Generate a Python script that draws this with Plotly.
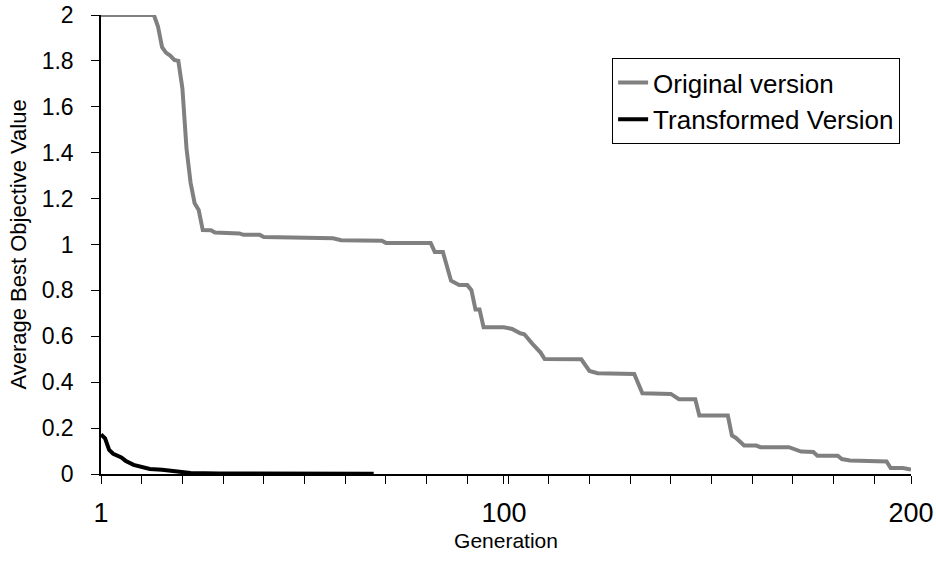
import plotly.graph_objects as go

# Original version: vertices (generation, average best objective value)
orig_gen = [1, 14, 15, 16, 17, 18, 19, 20, 21, 22, 23, 24, 25, 26, 28, 29, 35, 36, 40, 41,
            58, 60, 70, 71, 82, 83, 85, 87, 89, 91, 92, 93, 94, 95, 100, 102, 104, 105, 107,
            109, 110, 119, 121, 123, 132, 134, 141, 143, 147, 148, 155, 156, 157, 159, 162,
            163, 170, 173, 176, 177, 182, 183, 185, 194, 195, 198, 200]
orig_val = [2.00, 2.00, 1.95, 1.86, 1.835, 1.823, 1.804, 1.80, 1.68, 1.42, 1.27, 1.18, 1.15,
            1.063, 1.062, 1.052, 1.048, 1.042, 1.042, 1.033, 1.027, 1.019, 1.016, 1.007,
            1.007, 0.967, 0.967, 0.842, 0.823, 0.823, 0.801, 0.717, 0.717, 0.639, 0.639,
            0.632, 0.613, 0.609, 0.567, 0.529, 0.501, 0.500, 0.449, 0.439, 0.436, 0.352,
            0.349, 0.326, 0.326, 0.255, 0.255, 0.168, 0.157, 0.124, 0.124, 0.117, 0.117,
            0.098, 0.096, 0.080, 0.080, 0.065, 0.059, 0.055, 0.026, 0.026, 0.019]

# Transformed version
trans_gen = [1, 2, 3, 4, 6, 7, 9, 11, 13, 16, 19, 21, 23, 30, 68]
trans_val = [0.172, 0.155, 0.105, 0.088, 0.072, 0.058, 0.040, 0.031, 0.022, 0.019, 0.014,
             0.007, 0.004, 0.002, 0.001]

x_label_vals = [1, 100, 200]
x_label_text = ["1", "100", "200"]
x_minor_vals = list(range(1, 200, 10))
y_tick_vals = [0, 0.2, 0.4, 0.6, 0.8, 1, 1.2, 1.4, 1.6, 1.8, 2]
y_tick_text = ["0", "0.2", "0.4", "0.6", "0.8", "1", "1.2", "1.4", "1.6", "1.8", "2"]

FONT = "Arial, Liberation Sans, sans-serif"

fig = go.Figure()
fig.add_trace(go.Scatter(x=orig_gen, y=orig_val, mode="lines", name="Original version",
                         line=dict(color="#808080", width=4)))
fig.add_trace(go.Scatter(x=trans_gen, y=trans_val, mode="lines", name="Transformed Version",
                         line=dict(color="#000000", width=4)))

fig.update_layout(
    width=936, height=568,
    margin=dict(l=101, r=25, t=15, b=94, autoexpand=False),
    paper_bgcolor="white", plot_bgcolor="white",
    font=dict(family=FONT, color="black"),
    showlegend=True,
    legend=dict(x=0.631, y=0.906, xanchor="left", yanchor="top",
                bordercolor="black", borderwidth=1, bgcolor="white",
                font=dict(size=26, family=FONT), tracegroupgap=0,
                itemwidth=30),
)
fig.update_xaxes(
    range=[1, 200], showgrid=False, zeroline=False, automargin=False,
    showline=True, linecolor="black", linewidth=1.5,
    tickmode="array", tickvals=x_label_vals, ticktext=x_label_text,
    ticks="outside", ticklen=8, tickcolor="black", tickwidth=1,
    tickfont=dict(size=27, family=FONT), ticklabelstandoff=6,
    minor=dict(tickmode="array", tickvals=x_minor_vals, ticks="outside", ticklen=8,
               tickcolor="black", tickwidth=1),
    title=dict(text="Generation", font=dict(size=21, family=FONT), standoff=6),
)
fig.update_yaxes(
    range=[0, 2], showgrid=False, zeroline=False, automargin=False,
    showline=True, linecolor="black", linewidth=1.5,
    tickmode="array", tickvals=y_tick_vals, ticktext=y_tick_text,
    ticks="outside", ticklen=8, tickcolor="black", tickwidth=1,
    tickfont=dict(size=23, family=FONT), ticklabelstandoff=13,
    title=dict(text="Average Best Objective Value", font=dict(size=22, family=FONT), standoff=9),
)

fig.write_html("out.html", config={"displayModeBar": False},
               post_script="document.body.style.margin='0';")
